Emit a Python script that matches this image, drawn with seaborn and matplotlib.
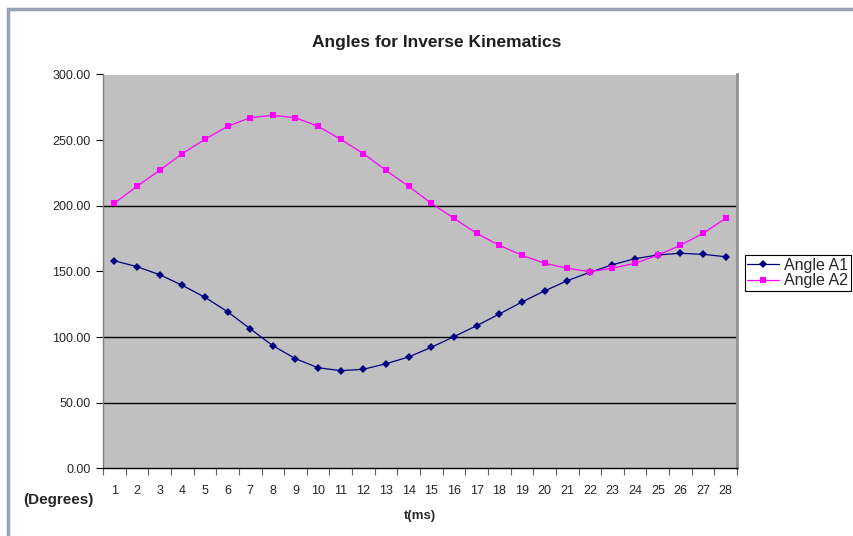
import matplotlib
matplotlib.use("Agg")
import matplotlib.pyplot as plt
from matplotlib.patches import Rectangle
import seaborn as sns
import pandas as pd
import numpy as np

# Time steps (ms) and joint angles (degrees)
t_ms = list(range(1, 29))
angle_a1 = [158.1, 153.6, 147.5, 139.4, 130.3, 119.3, 106.3, 93.4, 83.5, 76.6,
            74.4, 75.4, 79.7, 84.8, 92.2, 100.3, 108.6, 117.5, 126.7, 135.1,
            142.9, 149.3, 155.1, 159.7, 162.5, 163.8, 163.0, 161.2]
angle_a2 = [201.9, 214.8, 227.0, 239.7, 250.6, 260.5, 267.1, 268.9, 267.1, 260.5,
            250.6, 239.7, 227.0, 214.8, 201.9, 190.4, 179.0, 169.9, 162.3, 156.2,
            152.4, 149.8, 152.4, 156.2, 162.3, 169.9, 179.0, 190.4]
series_names = ["Angle A1", "Angle A2"]
y_ticks = [0, 50, 100, 150, 200, 250, 300]
grid_values = [50, 100, 200]

df = pd.DataFrame({
    "t": t_ms * 2,
    "angle": angle_a1 + angle_a2,
    "series": [series_names[0]] * len(t_ms) + [series_names[1]] * len(t_ms),
})

sns.set_style("white")
plt.rcParams["font.family"] = ["Liberation Sans", "DejaVu Sans"]

fig = plt.figure(figsize=(8.54, 5.36), dpi=100)
ax = fig.add_axes([103 / 854, 1 - 468.3 / 536, 634 / 854, 393.8 / 536])
ax.set_facecolor("#c0c0c0")

# outer chart frame (left and top edges visible)
fig.patches.append(Rectangle((8 / 854, -0.1), 1.2, 1 - 9 / 536 + 0.1,
                             transform=fig.transFigure, fill=False,
                             edgecolor="#98a0b8", linewidth=2.5, zorder=0))

for g in grid_values:
    ax.axhline(g, color="black", linewidth=1.0, zorder=1)

palette = {series_names[0]: "#000080", series_names[1]: "#ff00ff"}
markers = {series_names[0]: "D", series_names[1]: "s"}
sns.lineplot(data=df, x="t", y="angle", hue="series", style="series",
             palette=palette, markers=markers, dashes=False, ax=ax,
             linewidth=0.9, markersize=4, markeredgewidth=0, zorder=3)

ax.set_xlim(0.5, 28.5)
ax.set_ylim(0, 300)
ax.set_yticks(y_ticks)
ax.set_yticklabels([f"{v:.2f}" for v in y_ticks], fontsize=9)
ax.set_xticks(t_ms)
ax.set_xticklabels([str(v) for v in t_ms], fontsize=9)
ax.set_xticks(np.arange(0.5, 29.0, 1.0), minor=True)
ax.tick_params(axis="x", which="major", length=0, pad=12)
ax.tick_params(axis="x", which="minor", length=5, width=0.8, color="#606060",
               direction="out", bottom=True)
ax.tick_params(axis="y", which="major", length=5, width=0.8, color="black",
               direction="out", left=True, pad=4)

ax.spines["top"].set_visible(False)
ax.spines["bottom"].set_color("black")
ax.spines["bottom"].set_linewidth(1.0)
ax.spines["left"].set_color("#808080")
ax.spines["left"].set_linewidth(1.0)
ax.spines["right"].set_color("#909090")
ax.spines["right"].set_linewidth(2.0)

ax.set_xlabel("")
ax.set_ylabel("")

fig.text(437 / 854, 1 - 43 / 536, "Angles for Inverse Kinematics",
         ha="center", va="center", fontsize=12.5, fontweight="bold",
         color="#202020")
fig.text(58 / 854, 1 - 500 / 536, "(Degrees)", ha="center", va="center",
         fontsize=11, fontweight="bold")
fig.text(420 / 854, 1 - 516 / 536, "t(ms)", ha="center", va="center",
         fontsize=9.5, fontweight="bold")

handles, labels = ax.get_legend_handles_labels()
ax.legend(handles=handles, labels=labels, loc="center left",
          bbox_to_anchor=(745 / 854, 1 - 273 / 536),
          bbox_transform=fig.transFigure, frameon=True, fancybox=False,
          edgecolor="black", facecolor="white", framealpha=1.0,
          fontsize=11.5, handlelength=2.0, handletextpad=0.3,
          borderpad=0.15, labelspacing=0.05, borderaxespad=0)
ax.get_legend().get_frame().set_linewidth(0.8)

fig.savefig("out.png", dpi=100, facecolor="white")
